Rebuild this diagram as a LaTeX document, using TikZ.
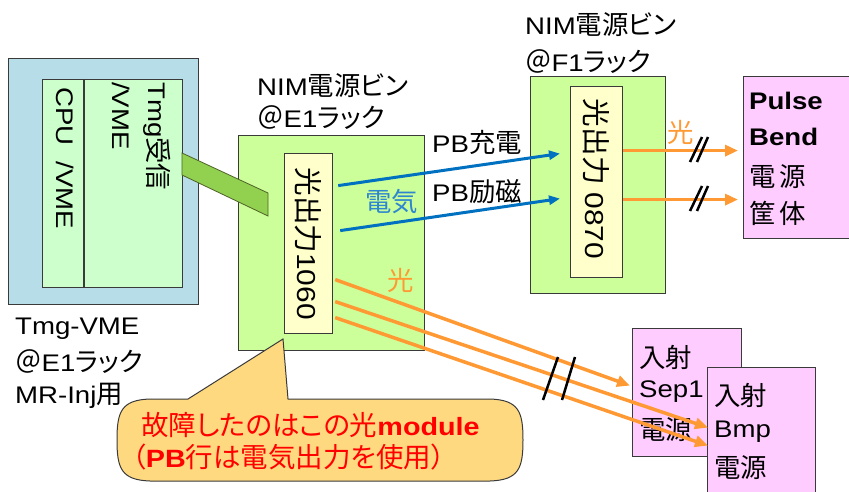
\documentclass[tikz,border=0pt]{standalone}
\usepackage{fontspec}
\setmainfont{Liberation Sans}[FakeStretch=1.15]
\newfontfamily\jp{Noto Sans CJK JP}[Scale=1.1,RawFeature=+palt]
\newcommand\J[1]{{\jp #1}}
\usetikzlibrary{arrows.meta,calc}
\definecolor{bordc}{HTML}{3A3A3A}
\definecolor{tmgblue}{HTML}{B7DEE8}
\definecolor{mint}{HTML}{CCFFCC}
\definecolor{lime}{HTML}{CCFF99}
\definecolor{cream}{HTML}{FFFFCC}
\definecolor{pinkb}{HTML}{FFCCFF}
\definecolor{bandg}{HTML}{92D050}
\definecolor{bandd}{HTML}{4F6228}
\definecolor{orng}{HTML}{FF9933}
\definecolor{bluea}{HTML}{0070C0}
\definecolor{bluel}{HTML}{2E86D0}
\definecolor{callf}{HTML}{FFD97F}
\begin{document}
\begin{tikzpicture}[x=1pt,y=-1pt,
  box/.style={draw=bordc,line width=1.2pt,inner sep=0pt,anchor=north west},
  lab/.style={font=\fontsize{24}{28}\selectfont,inner sep=0pt,anchor=west},
  vtxt/.style={font=\fontsize{24}{36}\selectfont,inner sep=0pt,rotate=-90},
  barr/.style={draw=bluea,line width=3pt,-{Triangle[length=11pt,width=9pt]}},
  oarr/.style={draw=orng,line width=3.5pt,-{Triangle[length=13pt,width=11pt]}},
  brk/.style={draw=black,line width=2.5pt}]
\useasboundingbox (0,0) rectangle (849,492);
% Tmg-VME crate
\node[box,fill=tmgblue,minimum width=190pt,minimum height=246pt] (tmgout) at (8,58) {};
\node[box,fill=mint,minimum width=140pt,minimum height=208pt] (tmgin) at (42,79) {};
\draw[draw=bordc,line width=1.2pt] ($(tmgin.north west)+(42,0)$) -- ($(tmgin.south west)+(42,0)$);
\node[vtxt,anchor=north west,align=left] (tmgtxt) at (171,82) {Tmg\J{受信}\\/VME};
\node[vtxt,anchor=west] (cputxt) at (65,87) {CPU\hspace{16pt}/VME};
% NIM E1
\node[box,fill=lime,minimum width=186pt,minimum height=215pt] (e1) at (238,135) {};
\node[box,fill=cream,minimum width=48pt,minimum height=180pt] (e1in) at (284,153) {};
\node[vtxt,font=\fontsize{26}{30}\selectfont] (e1txt) at (e1in.center) {\J{光出力}1060};
\draw[fill=bandg,draw=bandd,line width=0.8pt] (182,153) -- (268,193) -- (268,216) -- (182,175) -- cycle;
% NIM F1
\node[box,fill=lime,minimum width=135pt,minimum height=217pt] (f1) at (530,76) {};
\node[box,fill=cream,minimum width=52pt,minimum height=191pt] (f1in) at (570,86) {};
\node[vtxt,font=\fontsize{26}{30}\selectfont] (f1txt) at ([yshift=3pt]f1in.center) {\J{光出力}\hspace{8pt}0870};
% power supplies
\node[box,fill=pinkb,minimum width=115pt,minimum height=162pt] (pb) at (743,76) {};
\node[box,fill=pinkb,minimum width=109pt,minimum height=128pt] (sep) at (632,328) {};
\node[box,fill=pinkb,minimum width=108pt,minimum height=140pt] (bmp) at (707,367) {};
% labels
\node[lab] (e1l1) at (257,86) {NIM\J{電源ビン}};
\node[lab] (e1l2) at (257,118) {\J{＠}E1\J{ラック}};
\node[lab] (f1l1) at (525,25) {NIM\J{電源ビン}};
\node[lab] (f1l2) at (525,62) {\J{＠}F1\J{ラック}};
\node[lab] (tl1) at (15,329) {Tmg-VME};
\node[lab] (tl2) at (15,362) {\J{＠}E1\J{ラック}};
\node[lab] (tl3) at (15,396) {MR-Inj\J{用}};
\node[lab] (pb1) at (749,101) {\textbf{Pulse}};
\node[lab] (pb2) at (749,137) {\textbf{Bend}};
\node[lab] (pb3) at (749,177) {\J{電\,源}};
\node[lab] (pb4) at (749,213) {\J{筐\,体}};
\node[lab] (sp1) at (639,357) {\J{入射}};
\node[lab] (sp2) at (639,392) {Sep1};
\node[lab] (sp3) at (639,430) {\J{電源}};
\node[lab] (bm1) at (714,395) {\J{入射}};
\node[lab] (bm2) at (714,432) {Bmp};
\node[lab] (bm3) at (714,468) {\J{電源}};
\node[lab] (pbc) at (432,142) {PB\J{充電}};
\node[lab] (pbl) at (432,192) {PB\J{励磁}};
\node[lab,text=bluel] (elec) at (365,202) {\J{電気}};
\node[lab,text=orng] (hik1) at (387,280) {\J{光}};
\node[lab,text=orng] (hik2) at (667,132) {\J{光}};
% connectors
\draw[barr] ([xshift=5pt,yshift=58pt]e1in.east) -- ([xshift=-10pt,yshift=28.5pt]f1in.west);
\draw[barr] ([xshift=7pt,yshift=13pt]e1in.east) -- ([xshift=-10pt,yshift=-16.5pt]f1in.west);
\draw[oarr] ([yshift=31.5pt]f1in.east) -- ([xshift=-5pt,yshift=7pt]pb.west);
\draw[oarr] ([yshift=-17.5pt]f1in.east) -- ([xshift=-5pt,yshift=-42pt]pb.west);
\draw[oarr] ([xshift=2pt,yshift=-36pt]e1in.east) -- ([xshift=-2pt,yshift=7pt]sep.west);
\draw[oarr] ([xshift=2pt,yshift=-58pt]e1in.east) -- ([xshift=1pt,yshift=10pt]bmp.west);
\draw[oarr] ([xshift=2pt,yshift=-74pt]e1in.east) -- ([xshift=1pt,yshift=-8pt]bmp.west);
% break marks
\draw[brk] (702,137) -- (690,162);
\draw[brk] (708,137) -- (697,162);
\draw[brk] (702,186) -- (690,211);
\draw[brk] (708,186) -- (697,211);
\draw[brk] (558,357) -- (543,400);
\draw[brk] (575,357) -- (562,400);
% callout
\draw[fill=callf,draw=bordc,line width=1pt] (188,399) -- (283,339) -- (288,399) -- (490,399)
  .. controls (519,400) and (523,412) .. (523,440)
  .. controls (523,468) and (519,480) .. (490,481) -- (150,481)
  .. controls (121,480) and (117,468) .. (117,440)
  .. controls (117,412) and (121,400) .. (150,399) -- cycle;
\node[lab,text=red,font=\fontsize{25}{28}\selectfont] (c1) at (141,425) {\J{故障したのはこの光}\textbf{module}};
\node[lab,text=red,font=\fontsize{25}{28}\selectfont] (c2) at (132,457) {\J{（}\textbf{PB}\J{行は電気出力を使用）}};
\end{tikzpicture}
\end{document}
